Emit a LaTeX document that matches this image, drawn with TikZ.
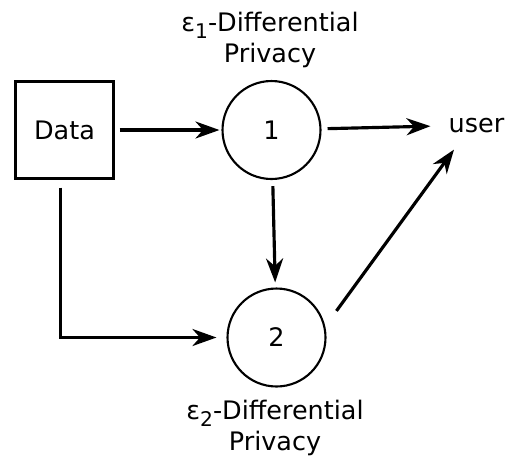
\documentclass[tikz,border=0pt]{standalone}
\usepackage{fontspec}
\setmainfont{DejaVu Sans}
\usetikzlibrary{arrows.meta}
\newcommand{\epsub}[1]{ε\raisebox{-0.25em}{\fontsize{11.5}{11.5}\selectfont #1}}

\begin{document}
\begin{tikzpicture}[x=0.02cm,y=-0.02cm,
    every node/.style={font=\fontsize{14.5}{17.5}\selectfont},
    datbox/.style={draw,line width=1.2pt,minimum width=1.96cm,minimum height=1.94cm},
    mech/.style={draw,circle,line width=1.2pt,minimum size=1.96cm},
    arr/.style={line width=1.8pt,-{Stealth[length=0.48cm,width=0.34cm,inset=0.15cm]}}]
        \useasboundingbox (0,0) rectangle (510,458);
        \node[datbox] (data) at (64.5,130) {Data};
        \node[mech] (c1) at (271.5,130) {1};
        \node[mech] (c2) at (276.5,337.5) {2};
        \node[anchor=base] (user) at (476.5,132) {user};
        \node[align=center] (lab1) at (270,40) {\epsub{1}-Differential\\Privacy};
        \node[align=center] (lab2) at (275,428) {\epsub{2}-Differential\\Privacy};
        \draw[arr,shorten <=0.1cm,shorten >=0.04cm] (data) -- (c1);
        \draw[arr,shorten <=0.12cm,shorten >=0.24cm] (c1) -- (user);
        \draw[arr,shorten <=0.12cm,shorten >=0.1cm] (c1) -- (c2);
        \draw[arr,shorten <=0.38cm] (c2.13) -- ([xshift=-0.45cm,yshift=-0.22cm]user.south);
        \draw[arr,shorten <=0.16cm,shorten >=0.2cm] ([xshift=-0.08cm]data.south) |- (c2.west);
    \end{tikzpicture}
\end{document}
